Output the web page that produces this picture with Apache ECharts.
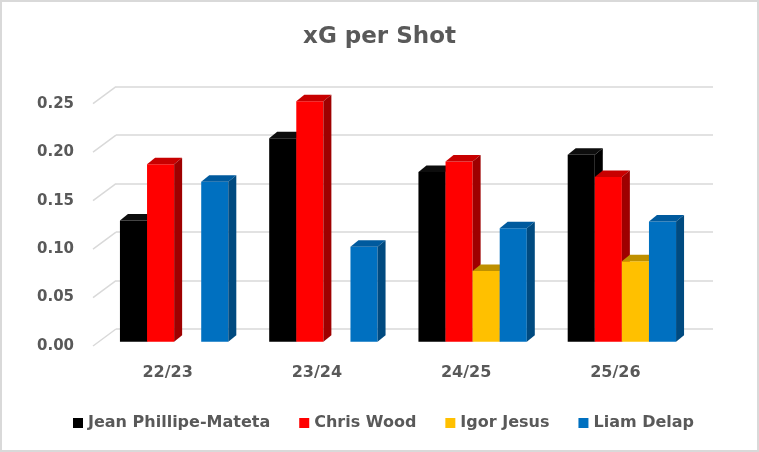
<!DOCTYPE html>
<html>
<head>
<meta charset="utf-8">
<script src="https://cdn.jsdelivr.net/npm/echarts@6/dist/echarts.min.js"></script>
<style>
html,body{margin:0;padding:0;background:#fff;}
#chart{width:759px;height:452px;}
</style>
</head>
<body>
<div id="chart"></div>
<script>
const categories = ['22/23', '23/24', '24/25', '25/26'];
const playerNames = ['Jean Phillipe-Mateta', 'Chris Wood', 'Igor Jesus', 'Liam Delap'];
const mateta = [0.125, 0.210, 0.175, 0.193];
const wood   = [0.183, 0.248, 0.186, 0.170];
const jesus  = [null, null, 0.073, 0.083];
const delap  = [0.165, 0.098, 0.117, 0.124];
const yTicks = [0, 0.05, 0.10, 0.15, 0.20, 0.25];

const seriesValues = [mateta, wood, jesus, delap];
const faceColors = [
  {front: '#000000', top: '#0d0d0d', side: '#000000'},
  {front: '#FF0000', top: '#C80000', side: '#9E0000'},
  {front: '#FFC000', top: '#BF9000', side: '#A07800'},
  {front: '#0070C0', top: '#005A9E', side: '#004A80'}
];
const DX = 8, DY = 6.5;
const FONT = '"DejaVu Sans", "Open Sans", sans-serif';
const GREY = '#595959';

const chart = echarts.init(document.getElementById('chart'), null, {renderer: 'canvas'});

function barSeries(k) {
  return {
    type: 'custom',
    name: playerNames[k],
    xAxisIndex: 1,
    yAxisIndex: 1,
    color: faceColors[k].front,
    data: categories.map((c, i) => [i, seriesValues[k][i] == null ? '-' : seriesValues[k][i]]),
    renderItem: function (params, api) {
      const v = api.value(1);
      if (v == null || isNaN(v)) return null;
      const ci = api.value(0);
      const top = api.coord([ci, v]);
      const base = api.coord([ci, 0]);
      const band = api.size([1, 0])[0];
      const w = band * 0.1815;
      const x0 = top[0] - 2 * w + k * w;
      const y1 = top[1], y0 = base[1];
      const col = faceColors[k];
      return {
        type: 'group',
        children: [
          {type: 'rect', shape: {x: x0, y: y1, width: w, height: y0 - y1}, style: {fill: col.front}},
          {type: 'polygon', shape: {points: [[x0, y1], [x0 + DX, y1 - DY], [x0 + w + DX, y1 - DY], [x0 + w, y1]]}, style: {fill: col.top}},
          {type: 'polygon', shape: {points: [[x0 + w, y1], [x0 + w + DX, y1 - DY], [x0 + w + DX, y0 - DY], [x0 + w, y0]]}, style: {fill: col.side}}
        ]
      };
    }
  };
}

const option = {
  backgroundColor: '#ffffff',
  animation: false,
  title: {
    text: 'xG per Shot',
    left: 'center',
    top: 21,
    textStyle: {fontFamily: FONT, fontWeight: 'bold', fontSize: 23, color: GREY}
  },
  legend: {
    data: playerNames,
    left: 68,
    top: 410,
    icon: 'rect',
    itemWidth: 10,
    itemHeight: 10,
    itemGap: 29,
    textStyle: {fontFamily: FONT, fontWeight: 'bold', fontSize: 16, color: GREY}
  },
  grid: [
    {left: 116, width: 597, top: 86.7, height: 242.3},
    {left: 99.5, width: 597, top: 99.4, height: 242.3},
    {left: 93, width: 597, top: 103.7, height: 242.3}
  ],
  xAxis: [
    {gridIndex: 0, type: 'category', data: categories, show: false},
    {gridIndex: 1, type: 'category', data: categories, show: false},
    {gridIndex: 2, type: 'category', data: categories,
     axisLine: {show: false}, axisTick: {show: false},
     axisLabel: {margin: 19, fontFamily: FONT, fontWeight: 'bold', fontSize: 16, color: GREY}}
  ],
  yAxis: [
    {gridIndex: 0, type: 'value', min: 0, max: 0.25, interval: 0.05,
     axisLine: {show: false}, axisTick: {show: false}, axisLabel: {show: false},
     splitLine: {show: true, lineStyle: {color: '#d9d9d9', width: 1.5}}},
    {gridIndex: 1, type: 'value', min: 0, max: 0.25, interval: 0.05, show: false, splitLine: {show: false}},
    {gridIndex: 2, type: 'value', min: 0, max: 0.25, interval: 0.05,
     axisLine: {show: false}, axisTick: {show: false}, splitLine: {show: false},
     axisLabel: {margin: 19, fontFamily: FONT, fontWeight: 'bold', fontSize: 15, color: GREY,
                 formatter: v => v.toFixed(2)}}
  ],
  series: [
    {
      type: 'custom',
      name: 'wallSides',
      xAxisIndex: 0,
      yAxisIndex: 0,
      silent: true,
      data: yTicks.map(t => [0, t]),
      renderItem: function (params, api) {
        const p = api.coord([0, api.value(1)]);
        const x = params.coordSys.x;
        return {type: 'line', shape: {x1: x, y1: p[1], x2: x - 23, y2: p[1] + 17},
                style: {stroke: '#d9d9d9', lineWidth: 1.5}};
      },
      z: 1
    },
    barSeries(0), barSeries(1), barSeries(2), barSeries(3)
  ],
  graphic: [
    {type: 'rect', shape: {x: 1, y: 1, width: 757, height: 450},
     style: {fill: 'none', stroke: '#d9d9d9', lineWidth: 2}, silent: true}
  ]
};
chart.setOption(option);
</script>
</body>
</html>
